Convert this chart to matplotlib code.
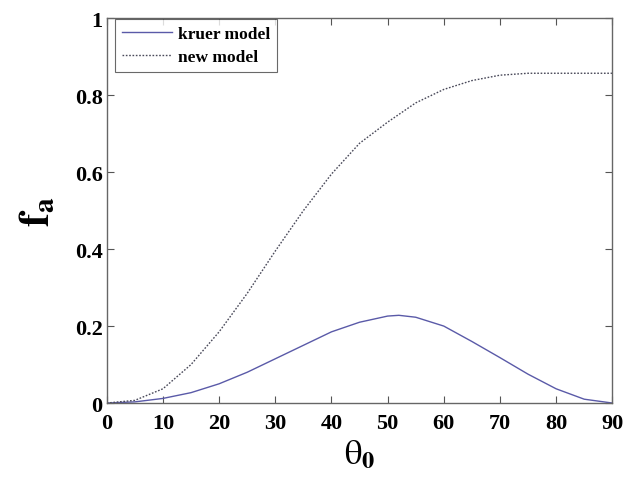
import matplotlib
matplotlib.use("Agg")
import matplotlib.pyplot as plt
import numpy as np

# data
theta = [0, 5, 10, 15, 20, 25, 30, 35, 40, 45, 50, 52, 55, 60, 65, 70, 75, 80, 85, 90]
kruer = [0, 0.003, 0.012, 0.027, 0.05, 0.08, 0.115, 0.15, 0.185, 0.21, 0.226, 0.228,
         0.223, 0.2, 0.16, 0.118, 0.075, 0.037, 0.01, 0]
new = [0, 0.007, 0.037, 0.1, 0.185, 0.285, 0.395, 0.5, 0.595, 0.675, 0.73, 0.75,
       0.78, 0.815, 0.838, 0.852, 0.857, 0.857, 0.857, 0.857]

plt.rcParams['font.family'] = ['Liberation Serif', 'DejaVu Serif']
plt.rcParams['mathtext.fontset'] = 'stix'

fig = plt.figure(figsize=(6.28, 4.81), dpi=100)
ax = fig.add_axes([0.170, 0.160, 0.805, 0.800])

ax.plot(theta, kruer, color='#5a5aa8', lw=1.0, label='kruer model')
ax.plot(theta, new, color='#4a4a5a', lw=1.0, ls=(0, (1.2, 1.2)), label='new model')

ax.set_xlim(0, 90)
ax.set_ylim(0, 1)
ax.set_xticks(np.arange(0, 91, 10))
ax.set_yticks([0, 0.2, 0.4, 0.6, 0.8, 1])
ax.set_yticklabels(['0', '0.2', '0.4', '0.6', '0.8', '1'])
ax.tick_params(direction='in', top=True, right=True, length=5, width=0.8,
               color='#555555', labelsize=16)
ax.tick_params(axis='x', pad=7)
ax.tick_params(axis='y', pad=3)
for lab in ax.get_xticklabels() + ax.get_yticklabels():
    lab.set_fontweight('bold')
for s in ax.spines.values():
    s.set_color('#666666')
    s.set_linewidth(1.0)

ax.set_xlabel(r'$\mathrm{\theta}_{\mathbf{0}}$', fontsize=25, labelpad=4)
ax.set_ylabel(r'$\mathbf{f}_{\mathbf{a}}$', fontsize=30, labelpad=12)

leg = ax.legend(loc='upper left', bbox_to_anchor=(8 / 505, 1 - 1 / 385),
                borderaxespad=0, fontsize=12.5, frameon=True, fancybox=False,
                handlelength=2.9, handletextpad=0.35, borderpad=0.4,
                labelspacing=0.4)
leg.get_frame().set_edgecolor('#444444')
leg.get_frame().set_linewidth(0.8)
for t in leg.get_texts():
    t.set_fontweight('bold')

fig.savefig('out.png', dpi=100)
